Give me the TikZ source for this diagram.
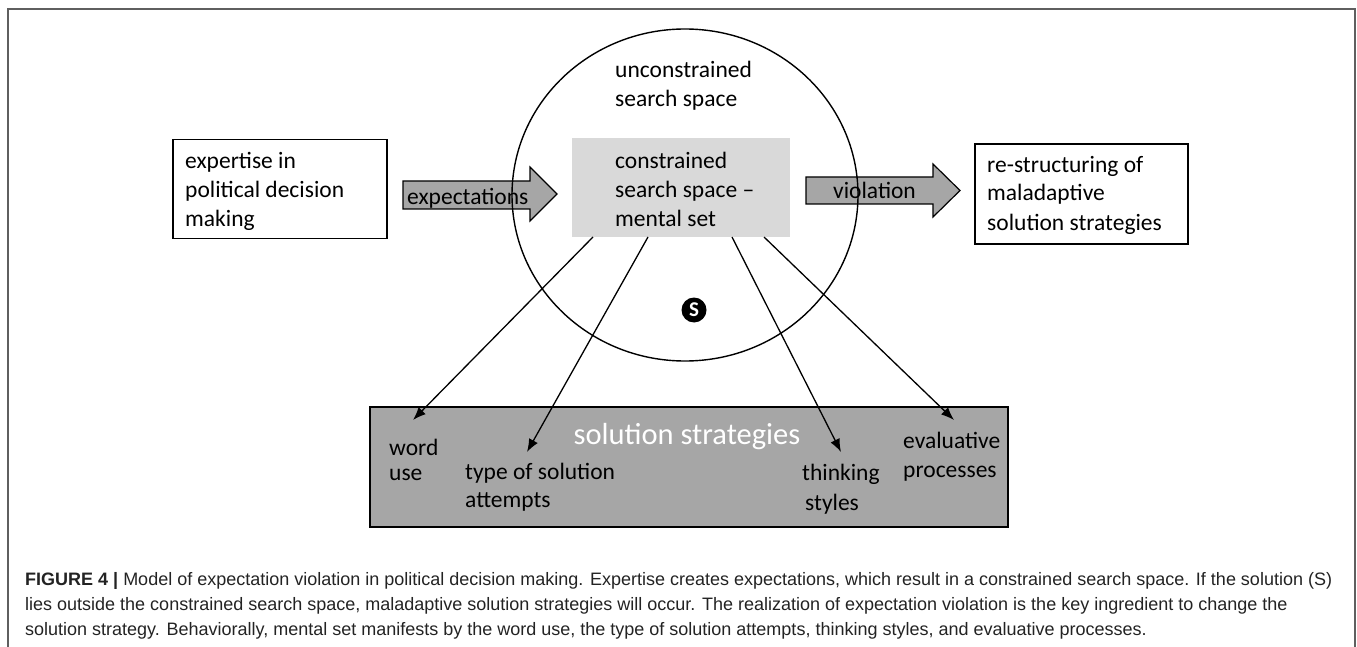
\documentclass[tikz,border=0pt]{standalone}
\usepackage{fontspec}
\setmainfont{Carlito}
\newfontfamily\capfont{Liberation Sans}
\usetikzlibrary{shapes.geometric,arrows.meta}
\definecolor{arrowgray}{RGB}{166,166,166}
\definecolor{setgray}{RGB}{217,217,217}
\definecolor{stratgray}{RGB}{166,166,166}
\definecolor{framegray}{RGB}{95,95,95}
\definecolor{captext}{RGB}{35,35,35}

\begin{document}
\begin{tikzpicture}[x=1pt,y=-1pt,
  lbl/.style={font=\fontsize{23.5}{29}\selectfont, inner sep=0pt, anchor=base west, align=left},
  outlinebox/.style={draw, line width=1.3pt, inner sep=0pt},
  blockarrow/.style={draw, line width=1.2pt, fill=arrowgray},
  conn/.style={line width=1.3pt, -{Latex[length=13pt,width=10pt]}}]

\useasboundingbox (0,0) rectangle (1357,647);

% figure frame, open at the bottom
\draw[framegray, line width=1.6pt] (8,647) -- (8,9) -- (1355,9) -- (1355,647);

% expertise box (multi-line labels sit on the baseline of their last line)
\node[outlinebox, minimum width=214pt, minimum height=99pt] (expert) at (280,189) {};
\node[lbl] (experttxt) at (185,226) {expertise in\\political decision\\making};

% re-structuring box
\node[outlinebox, minimum width=213pt, minimum height=100pt] (restruct) at (1081.5,194) {};
\node[lbl] (restructtxt) at (987,230) {re-structuring of\\maladaptive\\solution strategies};

% mental set (constrained search space)
\node[fill=setgray, minimum width=218pt, minimum height=99pt, inner sep=0pt] (cset) at (681,187.5) {};
\node[lbl] (csettxt) at (615,226) {constrained\\search space --\\mental set};

% block arrows
\draw[blockarrow] (403,181) -- (530,181) -- (530,167) -- (557,194) -- (530,221) -- (530,209) -- (403,209) -- cycle;
\node[lbl] (exptxt) at (407,205) {expectations};
\draw[blockarrow] (806,177) -- (933,177) -- (933,164) -- (960,190.5) -- (933,217) -- (933,204) -- (806,204) -- cycle;
\node[lbl] (viotxt) at (833,199) {violation};

% unconstrained search space
\node[draw, ellipse, line width=1.4pt, minimum width=346pt, minimum height=332pt, inner sep=0pt] (space) at (685,195) {};
\node[lbl] (spacetxt) at (615,107) {unconstrained\\search space};

% the solution
\node[circle, fill=black, minimum size=25pt, inner sep=0pt, text=white,
      font=\fontsize{21}{21}\bfseries\selectfont] (sol) at (694,310) {S};

% solution strategies
\node[draw, fill=stratgray, line width=1.4pt, minimum width=638pt, minimum height=120pt, inner sep=0pt] (strat) at (689,467) {};
\node[font=\fontsize{30.5}{36}\selectfont, text=white, inner sep=0pt, anchor=base] (strattitle) at (687,444) {solution strategies};

\node[lbl] (word1) at (389,455) {word};
\node[lbl] (word2) at (389,480) {use};
\node[lbl] (type1) at (465,479) {type of solution};
\node[lbl] (type2) at (465,507) {attempts};
\node[lbl] (think1) at (802,480) {thinking};
\node[lbl] (think2) at (805,510) {styles};
\node[lbl] (eval1) at (903,448) {evaluative};
\node[lbl] (eval2) at (903,477) {processes};

% connectors from the mental set to the strategies
\coordinate (s1) at (593,237);
\coordinate (s2) at (648,237);
\coordinate (s3) at (732,237);
\coordinate (s4) at (764,237);
\coordinate (t1) at (413,420);
\coordinate (t2) at (527,452);
\coordinate (t3) at (841,452);
\coordinate (t4) at (954,420);
\draw[conn] (s1) -- (t1);
\draw[conn] (s2) -- (t2);
\draw[conn] (s3) -- (t3);
\draw[conn] (s4) -- (t4);

% caption
\node[font=\capfont\fontsize{18}{25}\selectfont, text=captext, inner sep=0pt, anchor=base west, align=left] (caption) at (25,635)
  {{\bfseries FIGURE 4 |} Model of expectation violation in political decision making. Expertise creates expectations, which result in a constrained search space. If the solution (S)\\
   lies outside the constrained search space, maladaptive solution strategies will occur. The realization of expectation violation is the key ingredient to change the\\
   solution strategy. Behaviorally, mental set manifests by the word use, the type of solution attempts, thinking styles, and evaluative processes.};
\end{tikzpicture}
\end{document}
